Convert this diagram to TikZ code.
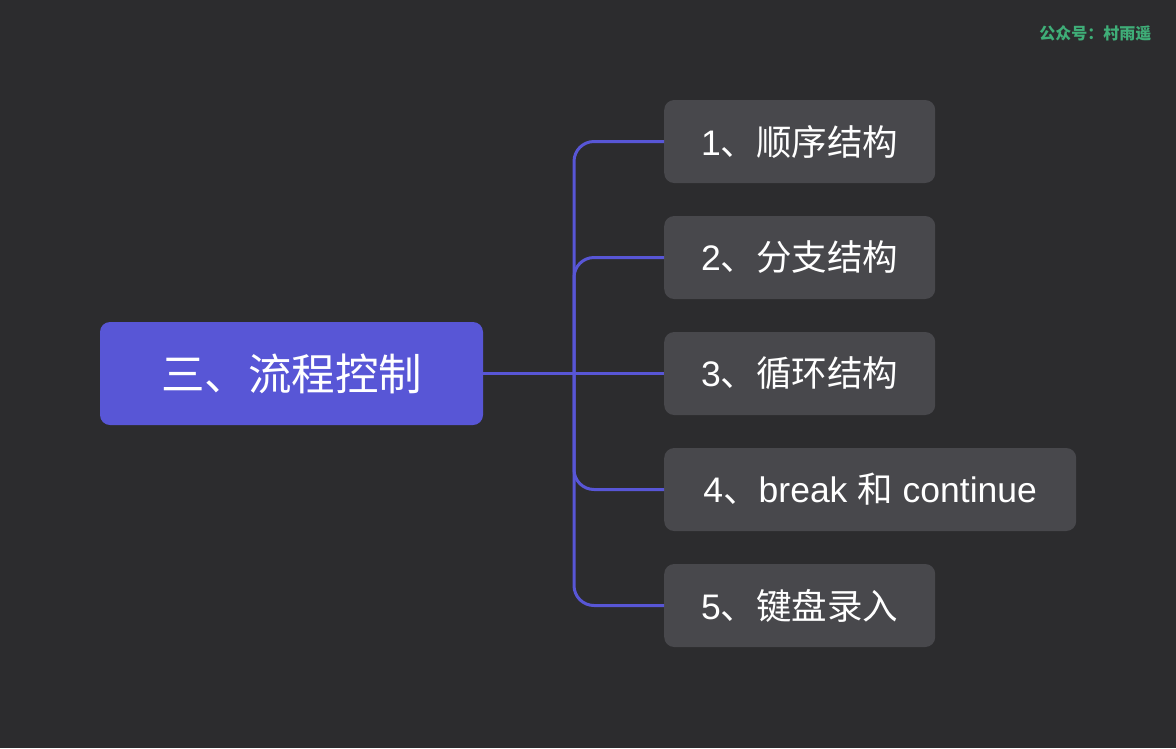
\documentclass[tikz,border=0pt]{standalone}
\usepackage{fontspec}
\setmainfont{Liberation Sans}
\newfontfamily\cjk{Noto Sans CJK SC}
\usetikzlibrary{positioning}

\definecolor{bgcol}{HTML}{2C2C2E}
\definecolor{rootcol}{HTML}{5856D6}
\definecolor{leafcol}{HTML}{48484C}
\definecolor{markcol}{HTML}{3FAE78}

\begin{document}
\begin{tikzpicture}[
  x=1pt, y=-1pt,
  root/.style = {fill=rootcol, text=white, rounded corners=10pt,
    minimum width=383pt, minimum height=103pt,
    font=\cjk\fontsize{43.5}{48}\selectfont},
  leaf/.style = {fill=leafcol, text=white, rounded corners=10pt,
    anchor=west, inner xsep=36pt, minimum width=271pt, minimum height=83pt,
    font=\fontsize{35.5}{40}\selectfont},
  branch/.style = {draw=rootcol, line width=3pt, rounded corners=20pt}
]

  \fill[bgcol] (0,0) rectangle (1176,748);
  \useasboundingbox (0,0) rectangle (1176,748);

  \node[text=markcol, font=\cjk\fontsize{16}{20}\selectfont\bfseries,
    anchor=east] (mark) at (1155,33) {公众号：村雨遥};

  \node[root] (flow) at (291.5,373.5) {三、流程控制};

  \node[leaf] (seq)  at (664,141.5) {1{\cjk 、顺序结构}};
  \node[leaf] (cond) at (664,257.5) {2{\cjk 、分支结构}};
  \node[leaf] (loop) at (664,373.5) {3{\cjk 、循环结构}};
  \node[leaf, minimum width=412pt] (brk) at (664,489.5)
    {4{\cjk 、}break {\cjk 和} continue};
  \node[leaf] (inp)  at (664,605.5) {5{\cjk 、键盘录入}};

  \coordinate (trunk) at (574,373.5);

  \draw[branch] (flow.east) -- (loop.west);
  \draw[branch] (seq.west) -| (trunk) |- (inp.west);
  \draw[branch] (trunk) |- (cond.west);
  \draw[branch] (trunk) |- (brk.west);

\end{tikzpicture}
\end{document}
